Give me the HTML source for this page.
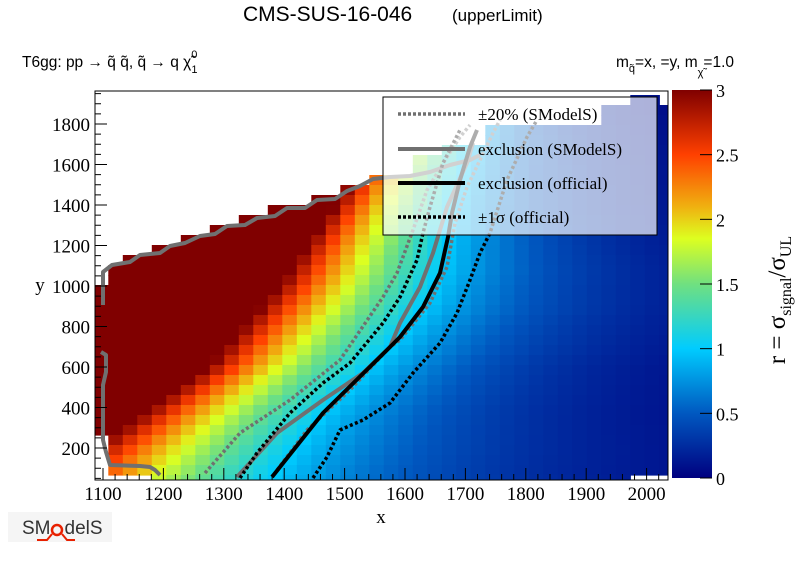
<!DOCTYPE html>
<html><head><meta charset="utf-8">
<style>
html,body{margin:0;padding:0;background:#fff;}
svg{display:block;}
.serif{font-family:"Liberation Serif","DejaVu Serif",serif;}
.sans{font-family:"Liberation Sans","DejaVu Sans",sans-serif;}
</style></head>
<body>
<svg id="s" width="796" height="572" viewBox="0 0 796 572" xmlns="http://www.w3.org/2000/svg">
<defs>
<linearGradient id="cb" x1="0" y1="1" x2="0" y2="0">
<stop offset="0" stop-color="#000080"/>
<stop offset="0.1667" stop-color="#0058c0"/>
<stop offset="0.3333" stop-color="#00ccff"/>
<stop offset="0.5" stop-color="#70e080"/>
<stop offset="0.6167" stop-color="#ddff20"/>
<stop offset="0.7" stop-color="#f0b010"/>
<stop offset="0.8333" stop-color="#ff4000"/>
<stop offset="1" stop-color="#800000"/>
</linearGradient>
<clipPath id="pc"><rect x="95" y="91" width="573" height="389"/></clipPath>
</defs>
<text x="243" y="21" class="sans" font-size="21">CMS-SUS-16-046</text>
<text x="452" y="21" class="sans" font-size="17">(upperLimit)</text>
<text x="22" y="67" class="sans" font-size="15.5">T6gg: pp  → q̃ q̃, q̃ → q χ̃<tspan font-size="11" dy="-9">0</tspan><tspan font-size="11" dx="-6" dy="15">1</tspan></text>
<text x="616" y="67" class="sans" font-size="15.5">m<tspan font-size="11" dy="5">q̃</tspan><tspan dy="-5">=x, =y, m</tspan><tspan font-size="11" dy="9">χ̃</tspan><tspan dy="-9">=1.0</tspan></text>
<g id="cells" clip-path="url(#pc)"></g>
<g id="lines" clip-path="url(#pc)" fill="none"></g>
<rect x="383" y="97" width="274" height="138" fill="#fff" fill-opacity="0.68" stroke="#000" stroke-width="1"/>
<g class="serif" font-size="17">
<line x1="398" y1="114" x2="465" y2="114" stroke="#707070" stroke-width="3.5" stroke-dasharray="3,2"/>
<text x="478" y="120">±20% (SModelS)</text>
<line x1="398" y1="149" x2="465" y2="149" stroke="#707070" stroke-width="4"/>
<text x="478" y="155">exclusion (SModelS)</text>
<line x1="398" y1="183" x2="465" y2="183" stroke="#000" stroke-width="4"/>
<text x="478" y="189">exclusion (official)</text>
<line x1="398" y1="217" x2="465" y2="217" stroke="#000" stroke-width="3.5" stroke-dasharray="3,2"/>
<text x="478" y="223">±1σ (official)</text>
</g>
<rect x="95" y="91" width="573" height="389" fill="none" stroke="#000" stroke-width="1"/>
<g id="ticks" stroke="#000" stroke-width="1"></g>
<g id="labels" class="serif" font-size="19"></g>
<text x="381" y="523" class="serif" font-size="19" text-anchor="middle">x</text>
<text x="40" y="291" class="serif" font-size="19" text-anchor="middle">y</text>
<rect x="672" y="90" width="40" height="388" fill="url(#cb)"/>
<g id="cbt" stroke="#000" stroke-width="1"></g>
<text transform="translate(785,300) rotate(-90)" class="serif" font-size="25" text-anchor="middle">r = σ<tspan font-size="16" dy="6">signal</tspan><tspan dy="-6">/σ</tspan><tspan font-size="16" dy="6">UL</tspan></text>
<g>
<rect x="8" y="512" width="104" height="30" fill="#eee" fill-opacity="0.6"/>
<text x="22" y="534" class="sans" font-size="19" fill="#333">SM<tspan dx="14">delS</tspan></text>
<circle cx="57" cy="530" r="5" fill="none" stroke="#e82000" stroke-width="2.5"/>
<path d="M37 540 L47 540 L52 534 M62 534 L67 540 L75 540" stroke="#e82000" stroke-width="2" fill="none"/>
</g>
</svg>
<script>
(function(){
var NS="http://www.w3.org/2000/svg";
function el(p,t,a){var e=document.createElementNS(NS,t);for(var k in a)e.setAttribute(k,a[k]);p.appendChild(e);return e;}
function interp(pts,v){if(v<=pts[0][0])return pts[0][1];for(var i=1;i<pts.length;i++){if(v<=pts[i][0]){var a=pts[i-1],b=pts[i];return a[1]+(b[1]-a[1])*(v-a[0])/(b[0]-a[0]);}}return pts[pts.length-1][1];}
var stops=[[0,[0,0,128]],[0.5,[0,88,192]],[1,[0,204,255]],[1.5,[112,224,128]],[1.85,[221,255,32]],[2.1,[240,176,16]],[2.5,[255,64,0]],[3,[128,0,0]]];
function col(r){r=Math.max(0,Math.min(3,r));for(var i=1;i<stops.length;i++){if(r<=stops[i][0]){var a=stops[i-1],b=stops[i],t=(r-a[0])/(b[0]-a[0]);var c=a[1].map(function(v,j){return Math.round(v+(b[1][j]-v)*t);});return "rgb("+c.join(",")+")";}}return "rgb(128,0,0)";}
var contour=[[57,1380],[373,1464],[684,1570],[896,1630],[1064,1658],[1360,1678],[1686,1708],[2000,1730]];
var edge=[[0,1010],[200,1090],[600,1276],[1000,1394],[1400,1486],[1800,1570],[2000,1610]];
var topPx=[[95,285],[107.9,285],[108,268],[140,253],[173,242],[200,232],[227,222],[257,213],[287,205],[317,197],[347,187],[373,177],[380,177],[413,177],[413.1,160],[437,160],[437.1,150],[480,150],[480.1,130],[597,130],[597.1,105],[625,105],[625.1,91],[655,91],[655.1,110],[668,110]];
function PX(x){return 103+(x-1100)*0.604;} function PY(y){return 448-(y-200)*0.2025;}
var g=document.getElementById("cells");
var cw=14.5,ch=10;
for(var k=-1;k<40;k++){var x0=108.3+cw*k;if(x0>668)break;
 for(var j=-21;j<20;j++){var y0=285+ch*j;if(y0+ch<91||y0>480)continue;
  var px=x0+cw/2,py=y0+ch/2;
  if(py<interp(topPx,px))continue;
  if(px<108&&py>430)continue;
  if(px<150&&py>470)continue;
  if(px>625&&py>470)continue;
  var dx=(px-103)/0.604+1100,dy=(448-py)/0.2025+200;
  var e=interp(edge,dy),c=interp(contour,dy);
  var t=(dx-e)/(c-e);
  var r=Math.pow(3,1-t);
  el(g,"rect",{x:x0.toFixed(1),y:y0,width:cw+0.6,height:ch+0.6,fill:col(r)});
 }}
var L=document.getElementById("lines");
function pl(pts,c,w,dash){var a={points:pts,stroke:c,"stroke-width":w,"stroke-linejoin":"round"};if(dash)a["stroke-dasharray"]=dash;el(L,"polyline",a);}
pl("103,305 103,272 112,265 130,262 140,255 160,253 170,246 185,243 200,236 215,234 227,226 245,225 257,218 275,216 287,208 305,208 317,200 335,199 347,191 360,186 373,179 390,177 410,176 430,172 450,165 470,160 480,155","#707070",4);
pl("101,352 106,355 106,372 103,385 103,440 106,452 110,465 140,466 150,467 155,470 160,475","#707070",4);
pl("205,473 240,433 290,400 340,360 383,297 397,273 413,230 427,190 447,157 460,137 470,125","#707070",3.5,"3,2.5");
pl("277,470 307,430 350,390 390,347 400,340 430,303 447,267 455,223 467,187 493,133 500,120","#707070",3.5,"3,2.5");
pl("237,477 277,433 323,400 363,373 390,347 400,323 420,287 433,253 447,207 467,163 473,143","#707070",4);
pl("272,477 323,413 387,350 400,337 423,307 440,273 448,237 452,213 460,180 470,147 477,130","#000",4);
pl("240,478 257,453 290,413 323,383 350,363 383,323 400,297 417,260 423,233 430,207 443,163 460,130","#000",3.5,"3,2.5");
pl("313,478 327,457 340,430 363,420 390,403 413,373 440,343 457,313 470,280 480,253 490,233 507,180 527,137 537,120","#000",3.5,"3,2.5");
var T=document.getElementById("ticks"),Lb=document.getElementById("labels");
for(var x=1080;x<=2040;x+=20){var qx=PX(x);if(qx<95||qx>668)continue;var maj=(x%100==0);el(T,"line",{x1:qx,y1:480,x2:qx,y2:480-(maj?12:6)});
 if(maj){var tx=el(Lb,"text",{x:qx,y:500,"text-anchor":"middle"});tx.textContent=x;}}
for(var y=50;y<=1950;y+=50){var qy=PY(y);if(qy<91||qy>480)continue;var mj=(y%200==0);el(T,"line",{x1:95,y1:qy,x2:95+(mj?12:6),y2:qy});
 if(mj){var ty=el(Lb,"text",{x:90,y:qy+7,"text-anchor":"end"});ty.textContent=y;}}
var C=document.getElementById("cbt");
for(var i=0;i<=6;i++){var v=i*0.5,cy=478-v*388/3;el(C,"line",{x1:700,y1:cy,x2:712,y2:cy});
 var tc=el(Lb,"text",{x:716,y:cy+7,"font-size":"18"});tc.textContent=(i%2==0?String(v|0):String(v));}
})();
</script>
</body></html>
